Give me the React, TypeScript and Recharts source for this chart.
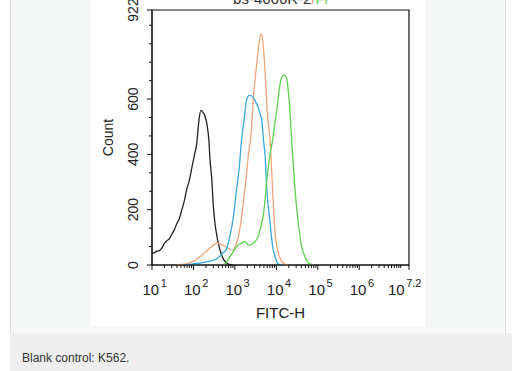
import { Label, Line, LineChart, ReferenceArea, XAxis, YAxis } from "recharts";

// x values are log10(FITC-H), y values are cell counts
const blankX = [1.0, 1.06, 1.12, 1.18, 1.24, 1.3, 1.36, 1.42, 1.48, 1.54, 1.6, 1.66, 1.72, 1.78, 1.84, 1.9, 1.96, 2.02, 2.08, 2.13, 2.18, 2.23, 2.28, 2.33, 2.37, 2.4, 2.44, 2.48, 2.52, 2.56, 2.6, 2.66, 2.72, 2.78, 2.86, 2.95];
const blankY = [42, 45, 50, 52, 62, 78, 88, 95, 112, 128, 150, 168, 200, 232, 275, 305, 350, 395, 440, 520, 559, 552, 538, 505, 455, 380, 315, 212, 150, 110, 78, 45, 22, 10, 2, 0];

const orangeX = [1.6, 1.75, 1.9, 2.05, 2.2, 2.35, 2.48, 2.56, 2.64, 2.72, 2.8, 2.88, 2.95, 3.02, 3.08, 3.14, 3.2, 3.26, 3.32, 3.39, 3.44, 3.5, 3.55, 3.59, 3.63, 3.67, 3.71, 3.75, 3.79, 3.85, 3.89, 3.93, 3.97, 4.02, 4.08, 4.17, 4.29];
const orangeY = [0, 2, 8, 18, 35, 55, 72, 78, 76, 70, 64, 56, 54, 70, 100, 150, 220, 300, 391, 476, 595, 690, 760, 810, 836, 815, 740, 640, 535, 451, 331, 210, 114, 60, 28, 6, 0];

const blueX = [1.75, 2.0, 2.2, 2.4, 2.56, 2.64, 2.72, 2.8, 2.88, 2.96, 3.04, 3.1, 3.16, 3.22, 3.28, 3.35, 3.44, 3.5, 3.56, 3.61, 3.65, 3.69, 3.73, 3.77, 3.81, 3.85, 3.91, 3.97, 4.05, 4.12];
const blueY = [0, 4, 8, 14, 22, 32, 45, 58, 105, 170, 275, 345, 451, 523, 595, 613, 607, 590, 571, 545, 523, 451, 391, 271, 205, 150, 66, 30, 4, 0];

const greenX = [2.7, 2.8, 2.88, 2.96, 3.04, 3.1, 3.16, 3.22, 3.26, 3.32, 3.38, 3.44, 3.5, 3.56, 3.62, 3.69, 3.73, 3.77, 3.81, 3.85, 3.91, 3.96, 4.01, 4.05, 4.09, 4.13, 4.17, 4.21, 4.25, 4.28, 4.31, 4.35, 4.39, 4.45, 4.53, 4.61, 4.69, 4.81, 4.9];
const greenY = [0, 10, 30, 48, 66, 74, 78, 85, 84, 72, 74, 78, 88, 102, 135, 186, 240, 307, 360, 404, 451, 510, 559, 610, 656, 678, 686, 684, 674, 640, 595, 500, 400, 271, 150, 66, 30, 4, 0];

const xMajor = [1, 2, 3, 4, 5, 6, 7.2];
const xExponents = ["1", "2", "3", "4", "5", "6", "7.2"];
const xMinorFactors = [2, 3, 4, 5, 6, 7, 8, 9];

const yTicks = [0, 66.7, 133.3, 200, 266.7, 333.3, 400, 466.7, 533.3, 600, 666.7, 733.3, 800, 866.7, 922];
const yLabels = ["0", "", "", "200", "", "", "400", "", "", "600", "", "", "", "", "922"];

const FONT = "'Liberation Sans', Arial, sans-serif";

const zip = (xs: number[], ys: number[]) => xs.map((x, i) => ({ x, y: ys[i] }));

const xTicks = [
  ...xMajor,
  7,
  ...[1, 2, 3, 4, 5, 6].flatMap((d) => xMinorFactors.map((k) => d + Math.log10(k))),
].sort((a, b) => a - b);

const XTick = (props: any) => {
  const { x, y, payload } = props;
  const idx = xMajor.indexOf(payload.value);
  const major = idx >= 0;
  const last = idx === xMajor.length - 1;
  return (
    <g>
      <line x1={x} y1={y} x2={x} y2={y + (major ? 5 : 3)} stroke="#111" strokeWidth={1} />
      {major && (
        <text x={last ? x - 21 : x - 9.5} y={y + 30} fontSize={15} fill="#222" fontFamily={FONT}>
          10
          <tspan dx={1.5} dy={-8} fontSize={11}>
            {xExponents[idx]}
          </tspan>
        </text>
      )}
    </g>
  );
};

const YTick = (props: any) => {
  const { x, y, payload } = props;
  const label = yLabels[yTicks.indexOf(payload.value)];
  return (
    <g>
      <line x1={x} y1={y} x2={x - (label ? 5 : 3)} y2={y} stroke="#111" strokeWidth={1} />
      {label && (
        <text
          x={x - 14}
          y={y}
          transform={`rotate(-90, ${x - 14}, ${y})`}
          textAnchor="middle"
          fontSize={14}
          fill="#222"
          fontFamily={FONT}
        >
          {label}
        </text>
      )}
    </g>
  );
};

export default function App() {
  return (
    <div style={{ position: "absolute", left: 0, top: 0, width: 512, height: 371, background: "#fff", overflow: "hidden" }}>
      <div
        style={{
          position: "absolute",
          left: 10,
          top: -1,
          width: 494,
          height: 333,
          border: "1px solid #dcdddd",
          background: "#f5f6f6",
        }}
      />
      <div
        style={{
          position: "absolute",
          left: 10,
          top: 333,
          width: 502,
          height: 38,
          background: "#eeefee",
        }}
      >
        <div
          style={{
            position: "absolute",
            left: 12,
            top: 18,
            fontFamily: FONT,
            fontSize: 12,
            color: "#333",
            lineHeight: "14px",
          }}
        >
          Blank control: K562.
        </div>
      </div>
      <div style={{ position: "absolute", left: 91, top: 0, width: 334, height: 326, background: "#fff" }}>
        <svg width={334} height={20} style={{ position: "absolute", left: 0, top: 0 }}>
          <text x={190} y={4} textAnchor="middle" fontSize={15} fill="#333" fontFamily={FONT}>
            bs-4666R-2
            <tspan fill="#e8a070">/</tspan>
            <tspan fill="#5fcf50">F/</tspan>
          </text>
        </svg>
        <LineChart width={334} height={326} margin={{ top: 10, right: 16, left: 0, bottom: 0 }}>
          <XAxis
            type="number"
            dataKey="x"
            domain={[1, 7.2]}
            ticks={xTicks}
            interval={0}
            tick={<XTick />}
            tickLine={false}
            tickSize={0}
            tickMargin={0}
            height={61}
            axisLine={{ stroke: "#111" }}
            allowDataOverflow
          >
            <Label
              content={(p: any) => (
                <text
                  x={p.viewBox.x + p.viewBox.width / 2}
                  y={p.viewBox.y + 53}
                  textAnchor="middle"
                  fontSize={15}
                  fill="#222"
                  fontFamily={FONT}
                >
                  FITC-H
                </text>
              )}
            />
          </XAxis>
          <YAxis
            type="number"
            dataKey="y"
            domain={[0, 922]}
            ticks={yTicks}
            interval={0}
            tick={<YTick />}
            tickLine={false}
            tickSize={0}
            tickMargin={0}
            width={61}
            axisLine={{ stroke: "#111" }}
            allowDataOverflow
          >
            <Label
              content={(p: any) => {
                const cx = 22;
                const cy = p.viewBox.y + p.viewBox.height / 2;
                return (
                  <text
                    x={cx}
                    y={cy}
                    transform={`rotate(-90, ${cx}, ${cy})`}
                    textAnchor="middle"
                    fontSize={14}
                    fill="#222"
                    fontFamily={FONT}
                  >
                    Count
                  </text>
                );
              }}
            />
          </YAxis>
          <ReferenceArea x1={1} x2={7.2} y1={0} y2={922} fill="none" stroke="#111" strokeWidth={1.2} />
          <Line data={zip(blankX, blankY)} dataKey="y" type="monotone" stroke="#222" strokeWidth={1.3} dot={false} isAnimationActive={false} />
          <Line data={zip(orangeX, orangeY)} dataKey="y" type="monotone" stroke="#f2a579" strokeWidth={1.3} dot={false} isAnimationActive={false} />
          <Line data={zip(blueX, blueY)} dataKey="y" type="monotone" stroke="#38a7dc" strokeWidth={1.3} dot={false} isAnimationActive={false} />
          <Line data={zip(greenX, greenY)} dataKey="y" type="monotone" stroke="#5fd052" strokeWidth={1.3} dot={false} isAnimationActive={false} />
        </LineChart>
      </div>
    </div>
  );
}
